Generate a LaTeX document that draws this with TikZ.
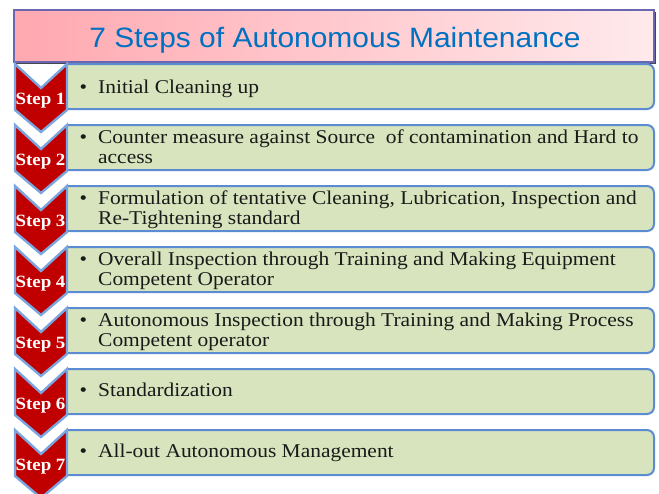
\documentclass[tikz,border=0pt]{standalone}
\usepackage{fontspec}
\setmainfont{Liberation Serif}[FakeStretch=1.1]
\newfontfamily\titlefont{Liberation Sans}[FakeStretch=1.07]
\definecolor{chevred}{HTML}{C00000}
\definecolor{chevline}{HTML}{7BA5DE}
\definecolor{boxfill}{HTML}{D7E4BD}
\definecolor{boxline}{HTML}{5B8BD0}
\definecolor{titleL}{HTML}{FFA8B0}
\definecolor{titleR}{HTML}{FFEAEC}
\definecolor{titleline}{HTML}{6B66B0}
\definecolor{titleblue}{HTML}{0070C0}
\definecolor{shadowc}{HTML}{4A4450}
\definecolor{textc}{HTML}{1A1A1A}
\tikzset{
  greenbox/.style={fill=boxfill, draw=boxline, line width=2pt, rounded corners=7pt},
  chevron/.style={fill=chevred, draw=chevline, line width=2.4pt, line join=miter},
  steplabel/.style={text=white, font=\bfseries\fontsize{17.2}{18}\selectfont, inner sep=0pt, anchor=base},
  itemtext/.style={font=\fontsize{19.5}{19.5}\selectfont, inner sep=0pt, anchor=base west, text=textc},
}
\newcommand{\itm}[1]{\parbox[t]{560pt}{\raggedright\makebox[0pt][r]{\textbullet\hspace{11pt}}#1}}
\begin{document}
\begin{tikzpicture}[x=1pt,y=-1pt]
\useasboundingbox (0,0) rectangle (659,493);
\clip (0,0) rectangle (659,493);
% title
\fill[shadowc] (16,12) rectangle (656,64);
\shade[left color=titleL, right color=titleR] (14,10) rectangle (654,62);
\draw[titleline, line width=1.2pt] (14,10) rectangle (654,62);
\node[font=\titlefont\fontsize{28}{30}\selectfont, text=titleblue, anchor=base, inner sep=0pt] (title) at (335,47) {7 Steps of Autonomous Maintenance};
% boxes and chevrons
\foreach \i/\T in {1/64,2/125,3/186,4/247,5/308,6/369,7/430}{
  \path[greenbox] (67,\T) -- (654,\T) -- (654,\T+45) -- (67,\T+45);
  \filldraw[chevron] (15,\T) -- (41,\T+24) -- (67,\T) -- (67,\T+46) -- (41,\T+68) -- (15,\T+46) -- cycle;
  \node[steplabel] (step\i) at (40.5,\T+40) {Step \i};
}
\node[itemtext] (txt1) at (98,93) {\itm{Initial Cleaning up}};
\node[itemtext] (txt2) at (98,143.5) {\itm{Counter measure against Source\ \ of contamination and Hard to\\access}};
\node[itemtext] (txt3) at (98,204.5) {\itm{Formulation of tentative Cleaning, Lubrication, Inspection and\\Re-Tightening standard}};
\node[itemtext] (txt4) at (98,265.5) {\itm{Overall Inspection through Training and Making Equipment\\Competent Operator}};
\node[itemtext] (txt5) at (98,326.5) {\itm{Autonomous Inspection through Training and Making Process\\Competent operator}};
\node[itemtext] (txt6) at (98,396) {\itm{Standardization}};
\node[itemtext] (txt7) at (98,457) {\itm{All-out Autonomous Management}};
\end{tikzpicture}
\end{document}
